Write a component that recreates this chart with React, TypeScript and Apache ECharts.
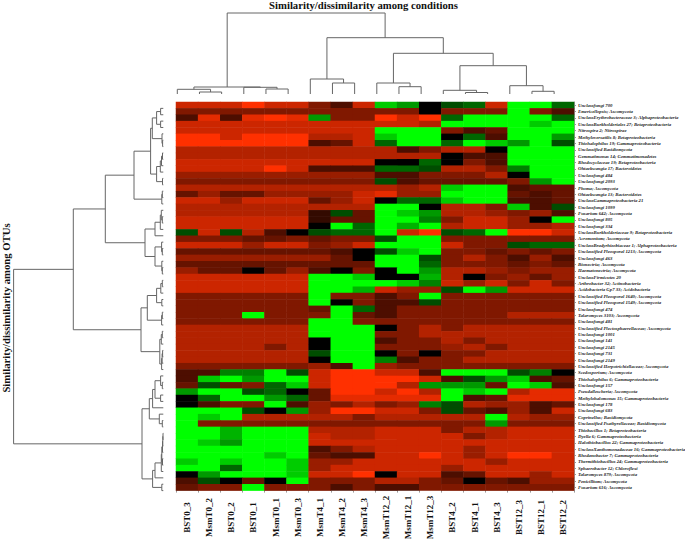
import React, { useEffect, useRef } from "react";
import * as echarts from "echarts";

const columnLabels = ["BST0_3","MsmT0_2","BST0_2","BST0_1","MsmT0_1","MsmT0_3","MsmT4_1","MsmT4_2","MsmT4_3","MsmT12_2","MsmT12_1","MsmT12_3","BST4_2","BST4_1","BST4_3","BST12_3","BST12_1","BST12_2"];

const rowLabels = ["Unclassfungi 700","Emericellopsis; Ascomycota","UnclassErythrobacteraceae 3; Alphaproteobacteria","UnclassBurkholderiales 27; Betaproteobacteria","Nitrospira 2; Nitrospirae","Methyloversatilis 8; Betaproteobacteria","Thiohalophilus 19; Gammaproteobacteria","Unclassified Basidiomycota","Gemmatimonas 14; Gemmatimonadetes","Rhodocyclaceae 19; Betaproteobacteria","Ohtaekwangia 17; Bacteroidetes","Unclassfungi 484","Unclassfungi 2093","Phoma; Ascomycota","Ohtaekwangia 13; Bacteroidetes","UnclassGammaproteobacteria 21","Unclassfungi 1099","Fusarium 642; Ascomycota","Unclassfungi 805","Unclassfungi 334","UnclassBurkholderiaceae 9; Betaproteobacteria","Acremonium; Ascomycota","UnclassBradyrhizobiaceae 1; Alphaproteobacteria","Unclassified Pleosporal 1213; Ascomycota","Unclassfungi 463","Bionectria; Ascomycota","Haematonectria; Ascomycota","UnclassFirmicutes 20","Arthrobacter 32; Actinobacteria","Acidobacteria Gp7 33; Acidobacteria","Unclassified Pleosporal 1640; Ascomycota","Unclassified Pleosporal 1549; Ascomycota","Unclassfungi 474","Talaromyces 3103; Ascomycota","Unclassfungi 481","Unclassified Plectosphaerellaceae; Ascomycota","Unclassfungi 1001","Unclassfungi 141","Unclassfungi 2145","Unclassfungi 731","Unclassfungi 2149","Unclassified Herpotrichiellaceae; Ascomycota","Scedosporium; Ascomycota","Thiohalophilus 6; Gammaproteobacteria","Unclassfungi 157","Pseudallescheria; Ascomycota","Methylohalomonas 15; Gammaproteobacteria","Unclassfungi 178","Unclassfungi 683","Coprinellus; Basidiomycota","Unclassified Psathyrellaceae; Basidiomycota","Thiobacillus 1; Betaproteobacteria","Dyella 6; Gammaproteobacteria","Halothiobacillus 22; Gammaproteobacteria","UnclassXanthomonadaceae 16; Gammaproteobacteria","Rhodanobacter 7; Gammaproteobacteria","Thermithiobacillus 24; Gammaproteobacteria","Sphaerobacter 12; Chloroflexi","Talaromyces 879; Ascomycota","Penicillium; Ascomycota","Fusarium 616; Ascomycota"];

// log-ratio like level per OTU (row) and condition (column): -10 bright green, 0 black, 10 bright red
const rowValues: number[][] = [
[8,8,8,10,8,8,5,3,8,-8,-6,0,-3,-4,8,-10,-10,-4],
[5,5,5,5,5,5,5,5,5,5,5,0,5,5,5,-10,5,3],
[3,9,3,9,10,9,-6,5,5,10,8,10,-4,-10,-10,-10,-10,-4],
[8,8,8,8,8,8,8,8,8,8,8,7,-10,-10,-10,-10,-8,-10],
[8,8,8,8,8,8,8,8,8,-10,-10,-10,5,3,4,-10,-10,-10],
[10,10,8,10,10,10,7,7,8,-8,-10,-10,0,-4,3,-10,-10,-6],
[10,10,10,10,10,10,3,4,8,-4,-10,-10,-4,-10,-8,-6,-10,-3],
[7,7,7,7,7,7,7,7,7,7,3,5,7,7,0,-10,-10,-10],
[7,7,7,7,7,7,7,7,7,7,7,7,0,3,3,-10,-10,-10],
[8,8,8,8,8,8,8,8,8,0,0,-4,0,5,3,-10,-10,-10],
[8,8,8,8,10,8,3,3,3,-4,-4,-3,7,7,5,-5,-10,-10],
[6,6,6,6,6,6,6,6,6,3,3,5,5,5,7,0,-10,-10],
[5,5,5,5,5,5,5,5,5,-3,3,4,4,4,4,5,-6,-10],
[7,7,7,7,7,7,7,7,7,7,6,7,-8,-10,-10,3,4,4],
[4,6,4,4,6,6,6,6,8,9,6,6,-10,-10,-10,4,3,4],
[8,8,6,8,8,8,4,6,8,0,-4,-4,-8,-10,-10,3,3,4],
[7,7,7,7,7,7,7,7,7,-10,-10,0,7,7,5,-8,3,-3],
[7,7,7,7,7,7,2,-3,4,-10,-8,-6,7,7,6,5,6,3],
[8,8,8,8,8,8,2,4,4,-10,-10,-5,5,8,8,6,0,-10],
[8,8,8,8,8,8,0,-10,-4,-10,-7,-10,7,8,8,6,6,7],
[-3,8,-3,7,3,0,-3,-4,-4,-10,8,10,-3,-4,-10,10,10,8],
[5,5,5,4,4,5,4,5,5,-3,-10,-10,5,5,5,5,5,5],
[8,8,8,6,8,8,5,6,8,-10,-10,-10,8,5,5,-3,-4,-4],
[4,4,4,4,4,4,4,3,0,-3,-8,-10,5,5,4,5,4,5],
[6,6,6,6,6,6,6,4,0,-10,-10,-3,5,7,5,3,6,3],
[4,4,4,4,4,4,4,4,4,-10,-10,-4,5,5,5,4,5,4],
[6,4,4,0,4,6,3,0,5,0,-10,-6,7,7,6,5,6,6],
[8,8,8,8,8,8,-10,-10,-8,0,0,-7,7,0,5,6,4,6],
[8,8,8,8,8,8,-10,-10,-10,-10,-8,-5,8,6,8,5,8,5],
[8,8,8,8,8,8,-10,-10,-7,8,6,6,-3,-10,-6,8,8,8],
[5,5,5,5,5,5,-10,5,5,3,5,-10,5,5,5,5,5,5],
[5,5,5,5,5,5,-10,0,5,3,3,-3,5,5,5,5,5,5],
[5,5,5,5,5,5,4,-10,-4,3,5,5,5,5,5,5,5,5],
[5,5,5,-10,5,5,5,-10,4,3,5,5,5,5,5,7,7,7],
[5,5,5,5,5,5,-10,-10,5,5,5,5,5,5,5,5,5,5],
[7,7,7,7,7,7,-10,-10,-10,0,5,7,5,7,7,7,7,7],
[7,7,7,7,7,7,-10,-10,-10,5,5,7,7,7,7,7,7,7],
[7,7,7,7,7,7,0,-10,-10,3,5,5,7,5,7,7,7,7],
[7,7,7,7,5,7,0,-10,-10,5,5,5,6,7,5,7,7,7],
[7,7,7,7,7,7,-3,-10,-10,0,5,0,5,5,7,7,7,7],
[7,7,7,7,7,7,0,-10,-10,-5,3,5,5,7,7,7,7,7],
[5,5,5,5,5,5,6,3,-10,6,5,5,5,5,5,5,5,5],
[3,3,-5,-5,-10,-3,8,10,10,8,8,3,-10,-10,-10,-3,-5,0],
[3,-8,-10,-6,-10,-10,8,10,10,10,10,8,3,-3,-6,-8,3,4],
[4,-3,4,5,-4,-8,8,10,10,10,7,-6,-6,-6,4,-10,-8,3],
[-6,-10,-10,-3,-4,0,4,10,10,8,10,7,-10,-8,-10,7,9,9],
[0,-4,-10,-10,-6,-4,4,9,9,9,9,9,-10,3,4,9,9,9],
[0,3,5,5,-10,3,6,5,7,5,6,-5,-3,7,6,6,3,4],
[-10,-10,-10,-3,0,-6,6,10,10,8,8,5,-3,4,3,6,3,8],
[-10,-8,-10,7,7,7,7,7,5,7,7,7,7,7,-10,7,6,6],
[-10,5,5,5,5,5,5,5,5,5,5,5,5,5,-6,5,5,5],
[-10,-10,-7,-10,-10,-10,7,7,7,8,8,8,5,7,7,8,8,8],
[-10,-10,-7,-10,-10,-10,8,7,7,8,8,8,8,5,7,8,8,8],
[-10,-8,-6,-10,-10,-10,8,8,8,8,8,8,8,8,8,8,8,8],
[-10,-10,-10,-10,-10,-10,3,5,7,8,8,8,8,6,8,8,8,8],
[-10,-10,-10,-10,-8,-10,4,3,3,8,8,10,8,6,8,10,10,8],
[-8,-10,-8,-10,-10,-8,6,6,8,8,8,8,8,8,6,8,8,8],
[-10,-10,-4,-10,-10,-8,6,8,8,8,8,8,6,8,8,8,8,8],
[0,-6,-10,-10,-10,-8,8,8,10,0,8,8,3,4,8,8,6,8],
[3,-3,0,4,0,-10,5,5,5,7,7,5,4,0,4,3,6,6],
[4,5,5,-10,5,5,5,3,5,3,3,5,5,5,5,5,5,5],
];

// Dendrogram merges: [childA, childB, height]. child >= 0 is a leaf index, child < 0 is merge number -(child + 1).
const n = (i: number) => -(i + 1);

const columnMerges: number[][] = [
  [1, 2, 2], [0, n(0), 4.7], [4, 5, 5], [3, n(2), 6.7], [n(1), n(3), 7],
  [7, 8, 11], [6, n(5), 15],
  [10, 11, 7.3], [9, n(7), 11],
  [13, 14, 1.5], [12, n(9), 3.7],
  [16, 17, 2.7], [15, n(11), 8.3],
  [n(10), n(12), 28.3], [n(8), n(13), 40.7], [n(6), n(14), 56.3], [n(4), n(15), 81],
];

const rowMerges: number[][] = [
  [0, 1, 2.7], [2, 3, 2.7], [n(0), n(1), 6.7], [5, 6, 0.7], [4, n(3), 1.3], [n(2), n(4), 11],
  [7, 8, 0.8], [n(6), 9, 1.8], [n(7), 10, 3], [11, 12, 0.8], [n(8), n(9), 6.7], [n(5), n(10), 12.7],
  [13, 14, 1], [n(12), 15, 1.5], [n(11), n(13), 29.3],
  [17, 18, 1], [16, n(15), 2], [n(16), 19, 3], [22, 23, 1], [n(17), 20, 8.3], [21, n(18), 1.7],
  [25, 26, 1], [24, n(21), 1.5], [n(20), n(22), 8.3], [n(19), n(23), 18.3], [n(14), n(24), 58],
  [27, 28, 1], [n(26), 29, 2.5], [30, 31, 1.5], [n(27), n(28), 6.7], [32, 33, 1], [n(30), 34, 1.7], [n(29), n(31), 16],
  [35, 36, 1], [n(33), 37, 2], [38, 39, 0.7], [n(35), 40, 1.2], [n(36), 41, 1.7], [n(34), n(37), 3.5], [n(32), n(38), 22.3],
  [n(25), n(39), 90],
  [43, 44, 1], [42, n(41), 2.7], [45, 46, 2.7], [n(42), n(43), 8.3], [n(44), 47, 10.7],
  [49, 50, 1], [48, n(46), 4], [n(45), n(47), 14],
  [51, 52, 0.3], [n(49), 53, 0.5], [n(50), 54, 0.8], [55, 56, 0.8], [n(51), n(52), 1.5], [n(53), 57, 2],
  [n(54), 58, 8.3], [59, 60, 1.5], [n(55), n(56), 10.7], [n(48), n(57), 21.3], [n(40), n(58), 149.7],
];

// Turns merges into [leafPosA, heightA, leafPosB, heightB, mergeHeight]
function buildLinks(merges: number[][], leafOffset: number): number[][] {
  const nodes: { p: number; h: number }[] = [];
  const read = (c: number) => (c >= 0 ? { p: c + leafOffset, h: 0 } : nodes[-c - 1]);
  return merges.map(([a, b, h]) => {
    const A = read(a);
    const B = read(b);
    nodes.push({ p: (A.p + B.p) / 2, h });
    return [A.p, A.h, B.p, B.h, h];
  });
}

const serif = "'Liberation Serif', 'Times New Roman', serif";
const treeStroke = "#666666";

export default function App() {
  const ref = useRef<HTMLDivElement>(null);
  useEffect(() => {
    const chart = echarts.init(ref.current!, null, { renderer: "svg" });
    const cells: number[][] = [];
    rowValues.forEach((row, r) => row.forEach((v, c) => cells.push([c, r, v])));

    const treeSeries = (links: number[][], idx: number, vertical: boolean) => ({
      type: "custom",
      xAxisIndex: idx,
      yAxisIndex: idx,
      clip: false,
      silent: true,
      data: links,
      renderItem: (_p: any, api: any) => {
        const a = api.value(0), ah = api.value(1), b = api.value(2), bh = api.value(3), h = api.value(4);
        const pt = (pos: number, height: number) => api.coord(vertical ? [pos, height] : [height, pos]);
        return {
          type: "polyline",
          shape: { points: [pt(a, ah), pt(a, h), pt(b, h), pt(b, bh)] },
          style: { stroke: treeStroke, fill: null, lineWidth: 1 },
        };
      },
    });

    chart.setOption({
      animation: false,
      backgroundColor: "#ffffff",
      grid: [
        { left: 176, top: 102, width: 398, height: 388.6, outerBoundsMode: "none" },
        { left: 177.3, top: 0, width: 399, height: 94, outerBoundsMode: "none" },
        { left: 13.3, top: 102, width: 150, height: 388.6, outerBoundsMode: "none" },
      ],
      xAxis: [
        {
          type: "category",
          gridIndex: 0,
          data: columnLabels,
          position: "bottom",
          axisLine: { show: false },
          axisTick: { show: true, length: 2, lineStyle: { color: "#999999", width: 1 } },
          axisLabel: {
            interval: 0,
            rotate: 90,
            align: "center",
            verticalAlign: "middle",
            margin: 27,
            fontFamily: serif,
            fontWeight: "bold",
            fontSize: 9,
            color: "#111111",
          },
          splitLine: { show: false },
        },
        { type: "value", gridIndex: 1, min: 0, max: 18, show: false },
        { type: "value", gridIndex: 2, min: 0, max: 150, inverse: true, show: false },
      ],
      yAxis: [
        {
          type: "category",
          gridIndex: 0,
          data: rowLabels,
          inverse: true,
          position: "right",
          axisLine: { show: true, lineStyle: { color: "#999999", width: 1 } },
          axisTick: { show: true, length: 2, alignWithLabel: true, lineStyle: { color: "#999999", width: 1 } },
          axisLabel: {
            interval: 0,
            margin: 4,
            fontFamily: serif,
            fontWeight: "bold",
            fontStyle: "italic",
            fontSize: 4.75,
            color: "#222222",
          },
          splitLine: { show: false },
        },
        { type: "value", gridIndex: 1, min: 0, max: 94, show: false },
        { type: "value", gridIndex: 2, min: 0, max: 61, inverse: true, show: false },
      ],
      visualMap: {
        show: false,
        seriesIndex: 0,
        min: -10,
        max: 10,
        inRange: { color: ["#00ff00", "#000000", "#ff3000"] },
      },
      graphic: [
        {
          type: "text",
          x: 363.5,
          y: 5,
          style: {
            text: "Similarity/dissimilarity among conditions",
            font: `bold 10.7px ${serif}`,
            fill: "#111111",
            textAlign: "center",
            textVerticalAlign: "middle",
          },
        },
        {
          type: "text",
          x: 6,
          y: 308,
          rotation: Math.PI / 2,
          style: {
            text: "Similarity/dissimilarity among OTUs",
            font: `bold 10.7px ${serif}`,
            fill: "#111111",
            textAlign: "center",
            textVerticalAlign: "middle",
          },
        },
      ],
      series: [
        {
          type: "heatmap",
          xAxisIndex: 0,
          yAxisIndex: 0,
          data: cells,
          silent: true,
          progressive: 0,
          itemStyle: { borderWidth: 0 },
        },
        treeSeries(buildLinks(columnMerges, 0), 1, true),
        treeSeries(buildLinks(rowMerges, 1), 2, false),
      ],
    } as any);
    return () => chart.dispose();
  }, []);
  return <div ref={ref} style={{ position: "absolute", left: 0, top: 0, width: 685, height: 540 }} />;
}
